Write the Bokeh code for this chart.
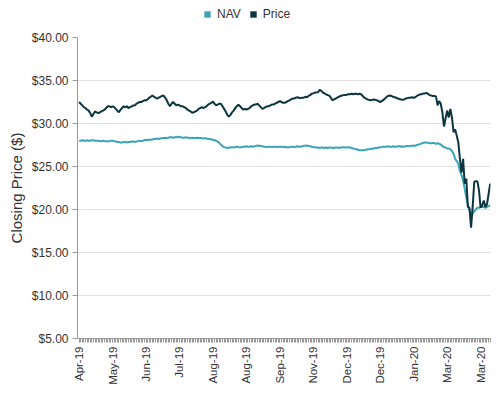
from bokeh.plotting import figure
from bokeh.layouts import column
from bokeh.models import (ColumnDataSource, FixedTicker, NumeralTickFormatter,
                          Legend, LegendItem, Range1d, CustomJSTickFormatter)
from bokeh.embed import file_html
from bokeh.resources import INLINE
import math

series_names = ["NAV", "Price"]
series_colors = ["#3ba5b7", "#0d3540"]

tick_labels = ["Apr-19", "May-19", "Jun-19", "Jul-19", "Aug-19", "Aug-19", "Sep-19",
               "Nov-19", "Dec-19", "Dec-19", "Jan-20", "Mar-20", "Mar-20"]
label_every = 21

price = [
    32.5, 32.3, 32.1, 31.9, 31.8, 31.6, 31.5, 31.2, 30.8, 31.1,
    31.4, 31.3, 31.2, 31.3, 31.4, 31.5, 31.6, 31.8, 32.0, 32.0,
    31.9, 32.0, 31.9, 31.7, 31.5, 31.3, 31.6, 31.8, 32.0, 31.9,
    32.0, 31.8, 31.9, 32.0, 32.1, 32.1, 32.3, 32.4, 32.5, 32.5,
    32.6, 32.7, 32.7, 32.8, 33.0, 33.1, 33.25, 33.1, 33.0, 32.9,
    33.0, 33.1, 33.2, 33.25, 33.0, 32.7, 32.3, 32.0, 32.3, 32.5,
    32.3, 32.1, 32.2, 32.1, 32.0, 32.0, 31.9, 31.8, 31.6, 31.5,
    31.4, 31.25, 31.3, 31.4, 31.5, 31.7, 31.8, 31.9, 31.8, 31.9,
    32.0, 32.2, 32.3, 32.4, 32.55, 32.3, 32.1, 32.2, 32.3, 32.3,
    32.0, 31.7, 31.4, 31.0, 30.8, 31.0, 31.3, 31.5, 31.8, 32.0,
    32.2, 32.0, 31.8, 31.6, 31.7, 31.6, 31.7, 31.8, 32.0, 32.1,
    32.2, 32.2, 32.3, 32.1, 31.9, 31.7, 31.8, 31.9, 32.0, 32.0,
    32.1, 32.2, 32.2, 32.3, 32.4, 32.5, 32.6, 32.5, 32.4, 32.4,
    32.5, 32.6, 32.7, 32.8, 32.9, 32.9, 33.0, 33.05, 33.0, 32.95,
    33.0, 33.0, 33.1, 33.05, 33.2, 33.3, 33.45, 33.5, 33.6, 33.6,
    33.65, 33.9, 33.8, 33.6, 33.5, 33.4, 33.3, 33.25, 33.0, 32.7,
    32.8, 32.9, 33.0, 33.1, 33.2, 33.25, 33.3, 33.3, 33.35, 33.4,
    33.4, 33.45, 33.4, 33.45, 33.45, 33.4, 33.45, 33.4, 33.2, 33.0,
    32.9, 32.8, 32.75, 32.7, 32.75, 32.8, 32.75, 32.7, 32.6, 32.5,
    32.6, 32.75, 32.9, 33.1, 33.2, 33.25, 33.2, 33.1, 33.05, 33.0,
    32.9, 32.85, 32.8, 32.75, 32.8, 32.9, 32.95, 33.0, 33.0, 33.05,
    33.0, 33.05, 33.2, 33.3, 33.4, 33.4, 33.5, 33.5, 33.55, 33.45,
    33.3, 33.25, 33.2, 33.2, 33.15, 32.1, 32.6, 32.3, 31.3, 29.65,
    30.6, 31.5, 30.7, 31.7, 30.7, 29.0, 29.3, 28.6, 27.8, 25.9,
    24.3, 25.9, 23.0, 23.6, 20.3, 20.2, 17.9, 20.3, 23.2, 23.3,
    23.25, 22.2, 20.2, 20.5, 21.05, 20.3, 20.6, 21.8, 23.0,
]

nav = [
    28.0, 28.0, 28.05, 28.0, 28.0, 28.05, 28.0, 28.0, 28.05, 28.05,
    28.0, 28.0, 28.0, 27.95, 27.95, 28.0, 27.95, 27.95, 27.9, 27.95,
    28.0, 28.0, 27.95, 27.9, 27.85, 27.85, 27.8, 27.8, 27.85, 27.85,
    27.8, 27.85, 27.85, 27.9, 27.9, 27.85, 27.9, 27.95, 28.0, 27.95,
    28.0, 28.05, 28.1, 28.05, 28.1, 28.1, 28.15, 28.2, 28.2, 28.25,
    28.2, 28.25, 28.3, 28.3, 28.35, 28.3, 28.35, 28.4, 28.4, 28.35,
    28.4, 28.4, 28.45, 28.4, 28.4, 28.35, 28.35, 28.4, 28.35, 28.35,
    28.3, 28.35, 28.3, 28.3, 28.35, 28.3, 28.3, 28.3, 28.25, 28.3,
    28.25, 28.2, 28.2, 28.15, 28.1, 28.05, 28.0, 27.9, 27.75, 27.55,
    27.35, 27.25, 27.2, 27.15, 27.2, 27.2, 27.25, 27.2, 27.25, 27.3,
    27.25, 27.2, 27.25, 27.3, 27.3, 27.35, 27.3, 27.3, 27.35, 27.3,
    27.35, 27.4, 27.45, 27.4, 27.4, 27.35, 27.3, 27.3, 27.25, 27.3,
    27.3, 27.25, 27.3, 27.3, 27.25, 27.3, 27.3, 27.3, 27.25, 27.3,
    27.25, 27.2, 27.25, 27.3, 27.3, 27.25, 27.3, 27.35, 27.3, 27.3,
    27.35, 27.4, 27.4, 27.45, 27.4, 27.35, 27.3, 27.25, 27.25, 27.2,
    27.2, 27.15, 27.2, 27.2, 27.15, 27.2, 27.15, 27.2, 27.2, 27.15,
    27.15, 27.2, 27.2, 27.15, 27.2, 27.2, 27.25, 27.2, 27.2, 27.25,
    27.2, 27.15, 27.1, 27.05, 27.0, 26.95, 26.9, 26.9, 26.9, 26.9,
    26.95, 27.0, 27.0, 27.05, 27.05, 27.1, 27.15, 27.15, 27.2, 27.25,
    27.25, 27.3, 27.3, 27.3, 27.35, 27.3, 27.3, 27.35, 27.3, 27.3,
    27.35, 27.35, 27.3, 27.35, 27.3, 27.35, 27.4, 27.35, 27.4, 27.4,
    27.45, 27.4, 27.5, 27.55, 27.6, 27.7, 27.75, 27.8, 27.8, 27.75,
    27.7, 27.7, 27.75, 27.7, 27.65, 27.7, 27.65, 27.55, 27.4, 27.25,
    27.2, 27.1, 27.1, 27.0, 26.8, 26.5, 25.9, 25.6, 25.3, 24.5,
    24.0, 23.4, 22.4, 21.4, 20.5, 19.9, 19.6, 19.5, 19.8, 20.0,
    20.2, 20.2, 20.3, 20.3, 20.3, 20.2, 20.3, 20.4, 20.5,
]

n = min(len(price), len(nav))
price = price[:n]
nav = nav[:n]
idx = list(range(n))

src = ColumnDataSource(dict(x=idx, nav=nav, price=price))

FONT = "Liberation Sans"
TXT = "#333333"
AX = "#999999"
W = 497
BL, BR = 77, 7

# ---- legend strip on top ----
leg_fig = figure(width=W, height=29, output_backend="svg", toolbar_location=None,
                 x_range=Range1d(0, 1), y_range=Range1d(0, 1),
                 min_border=0, min_border_left=BL, min_border_right=BR,
                 min_border_top=0, min_border_bottom=0)
leg_fig.xaxis.visible = False
leg_fig.yaxis.visible = False
leg_fig.grid.visible = False
leg_fig.outline_line_color = None
nan = float("nan")
sw_src = ColumnDataSource(dict(l=[nan], r=[nan], t=[nan], b=[nan]))
sw_nav = leg_fig.quad(left="l", right="r", top="t", bottom="b", source=sw_src,
                      fill_color=series_colors[0], line_color=None)
sw_price = leg_fig.quad(left="l", right="r", top="t", bottom="b", source=sw_src,
                        fill_color=series_colors[1], line_color=None)
legend = Legend(items=[LegendItem(label=series_names[0], renderers=[sw_nav]),
                       LegendItem(label=series_names[1], renderers=[sw_price])],
                orientation="horizontal", location=(126, 8),
                glyph_width=8, glyph_height=8, label_standoff=6, spacing=8,
                padding=0, margin=0, border_line_color=None,
                background_fill_alpha=0,
                label_text_font=FONT, label_text_font_size="12px",
                label_text_color=TXT, label_height=12)
leg_fig.add_layout(legend)

# ---- main chart ----
p = figure(width=W, height=358, output_backend="svg", toolbar_location=None,
           x_range=Range1d(-1.0, n - 0.8), y_range=Range1d(5, 40),
           min_border_left=BL, min_border_right=BR, min_border_top=8,
           min_border_bottom=49)
p.outline_line_color = None
p.background_fill_color = "white"

r_nav = p.line("x", "nav", source=src, line_color=series_colors[0], line_width=2)
r_price = p.line("x", "price", source=src, line_color=series_colors[1], line_width=2)

p.xaxis.ticker = FixedTicker(ticks=[i * label_every for i in range(len(tick_labels))],
                             minor_ticks=idx)
p.xaxis.formatter = CustomJSTickFormatter(
    args=dict(labels=tick_labels, every=label_every),
    code="const k = Math.round(tick / every); return (k >= 0 && k < labels.length) ? labels[k] : '';")
p.xaxis.major_label_orientation = math.pi / 2
p.xaxis.major_label_text_font = FONT
p.xaxis.major_label_text_font_size = "11.5px"
p.xaxis.major_label_text_color = TXT
p.xaxis.axis_line_color = AX
p.xaxis.major_tick_line_color = AX
p.xaxis.minor_tick_line_color = AX
p.xaxis.major_tick_in = 0
p.xaxis.major_tick_out = 4
p.xaxis.minor_tick_in = 0
p.xaxis.minor_tick_out = 4
p.xaxis.major_label_standoff = 4

p.yaxis.ticker = FixedTicker(ticks=[5, 10, 15, 20, 25, 30, 35, 40])
p.yaxis.formatter = NumeralTickFormatter(format="$0.00")
p.yaxis.axis_label = "Closing Price ($)"
p.yaxis.axis_label_text_font = FONT
p.yaxis.axis_label_text_font_size = "15px"
p.yaxis.axis_label_text_font_style = "normal"
p.yaxis.axis_label_text_color = TXT
p.yaxis.axis_label_standoff = 4
p.yaxis.major_label_text_font = FONT
p.yaxis.major_label_text_font_size = "12px"
p.yaxis.major_label_text_color = TXT
p.yaxis.axis_line_color = AX
p.yaxis.major_tick_line_color = AX
p.yaxis.major_tick_in = 0
p.yaxis.major_tick_out = 5
p.yaxis.minor_tick_line_color = None
p.yaxis.major_label_standoff = 4

p.xgrid.grid_line_color = None
p.ygrid.grid_line_color = "#e0e0e0"
p.ygrid.ticker = FixedTicker(ticks=[10, 15, 20, 25, 30, 35, 40])

layout = column(leg_fig, p, spacing=0)
open("out.html", "w").write(file_html(layout, INLINE))
